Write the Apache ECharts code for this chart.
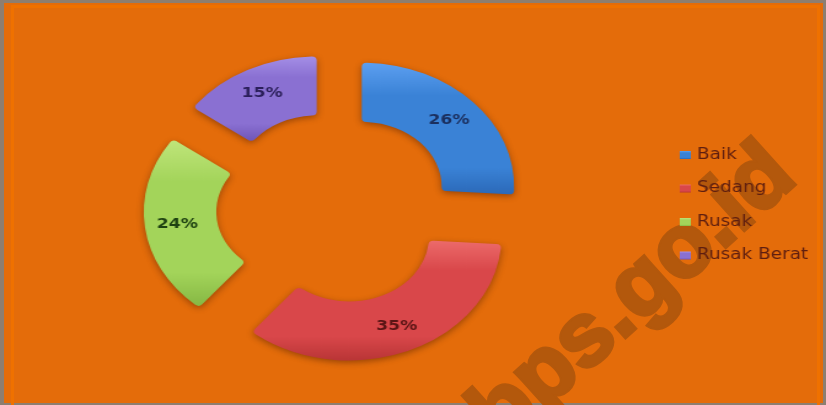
<!DOCTYPE html>
<html>
<head>
<meta charset="utf-8">
<script src="https://cdn.jsdelivr.net/npm/echarts@6/dist/echarts.min.js"></script>
<style>
  html, body { margin:0; padding:0; width:826px; height:405px; overflow:hidden; background:#8d7e70; }
  #bg { position:absolute; left:4px; top:3px; width:819px; height:400px; background:#E46C0A; }
  #edge { position:absolute; left:11px; top:5px; width:803px; height:420px; border:3px solid #EF7100; border-bottom:none; }
  #chart { position:absolute; left:0; top:0; width:672px; height:405px; transform:scaleX(1.2292); transform-origin:0 0; }
  #wm { position:absolute; left:0; top:0; width:826px; height:405px; pointer-events:none; }
</style>
</head>
<body>
<div id="bg"></div>
<div id="edge"></div>
<div id="wm"></div>
<div id="chart"></div>
<script>
// ---- data ----
const categories = ['Baik', 'Sedang', 'Rusak', 'Rusak Berat'];
const values = [26, 35, 24, 15];
const watermarkText = 'bps.go.id';

// ---- styles ----
const lightColors = ['#5c9ff0', '#ec6a6a', '#bfe57a', '#a48ee6'];
const baseColors  = ['#3a82d6', '#d9474a', '#a3d45a', '#8a70d2'];
const darkColors  = ['#2b69b8', '#b93536', '#86b844', '#6f56b8'];
const labelColors = ['#1b2f5e', '#5a1515', '#1f4212', '#2b1f5a'];

function grad(i) {
  return new echarts.graphic.LinearGradient(0, 0, 0, 1, [
    { offset: 0, color: lightColors[i] },
    { offset: 0.25, color: baseColors[i] },
    { offset: 0.8, color: baseColors[i] },
    { offset: 1, color: darkColors[i] }
  ]);
}

const pieData = categories.map((name, i) => ({
  name: name,
  value: values[i],
  selected: true,
  itemStyle: { color: grad(i) },
  label: { color: labelColors[i] }
}));

const chart = echarts.init(document.getElementById('chart'), null, { renderer: 'canvas' });
chart.setOption({
  backgroundColor: 'transparent',
  animation: false,
  legend: {
    orient: 'vertical',
    left: 548,
    top: 142,
    itemWidth: 9,
    itemHeight: 8,
    itemGap: 17.5,
    icon: 'rect',
    selectedMode: false,
    data: categories,
    textStyle: { fontFamily: 'DejaVu Sans', fontSize: 15, lineHeight: 16, color: '#5e1e10' }
  },
  series: [{
    type: 'pie',
    center: [271.7, 208],
    radius: [65, 124],
    startAngle: 90,
    clockwise: true,
    selectedMode: 'multiple',
    selectedOffset: 31,
    avoidLabelOverlap: false,
    itemStyle: {
      borderRadius: 4,
      shadowBlur: 6,
      shadowColor: 'rgba(60,20,0,0.45)',
      shadowOffsetY: 2
    },
    label: {
      show: true,
      position: 'inside',
      formatter: '{c}%',
      fontFamily: 'DejaVu Sans',
      fontSize: 14,
      fontWeight: 'bold'
    },
    labelLine: { show: false },
    emphasis: { disabled: true },
    data: pieData
  }]
});

const wm = echarts.init(document.getElementById('wm'), null, { renderer: 'canvas' });
wm.setOption({
  backgroundColor: 'transparent',
  animation: false,
  graphic: [{
    type: 'text',
    x: 634,
    y: 296,
    rotation: 42 * Math.PI / 180,
    silent: true,
    style: {
      text: watermarkText,
      font: 'bold 90px "Liberation Sans"',
      fill: '#b3580c',
      stroke: '#b3580c',
      lineWidth: 4,
      align: 'center',
      verticalAlign: 'middle'
    }
  }]
});
</script>
</body>
</html>
